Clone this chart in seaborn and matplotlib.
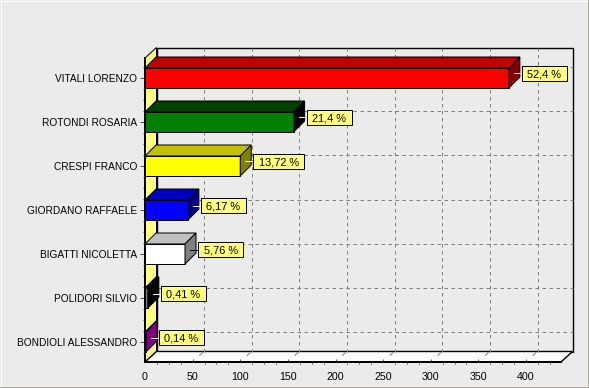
import matplotlib
matplotlib.use("Agg")
import matplotlib.pyplot as plt
import seaborn as sns
import pandas as pd
from matplotlib.patches import Polygon
from matplotlib.lines import Line2D
from matplotlib.ticker import MultipleLocator
from matplotlib.transforms import IdentityTransform

names = ["VITALI LORENZO", "ROTONDI ROSARIA", "CRESPI FRANCO", "GIORDANO RAFFAELE",
         "BIGATTI NICOLETTA", "POLIDORI SILVIO", "BONDIOLI ALESSANDRO"]
votes = [382, 156, 100, 45, 42, 3, 1]
percent = ["52,4 %", "21,4 %", "13,72 %", "6,17 %", "5,76 %", "0,41 %", "0,14 %"]
front_colors = ["#FF0000", "#008000", "#FFFF00", "#0000FF", "#FFFFFF", "#808080", "#800080"]
top_colors = ["#C00000", "#004000", "#C0C000", "#0000C0", "#C0C0C0", "#000000", "#600060"]
side_colors = ["#800000", "#000000", "#808000", "#000080", "#808080", "#000000", "#800080"]

BG = "#EBEBEB"
W, H = 589, 388
PX = 0.72  # one pixel in points
sns.set_theme(style="white")
plt.rcParams["font.family"] = ["Liberation Sans", "DejaVu Sans"]
FS_LABEL = 7.25
FS_XTICK = 7.7
FS_VALUE = 7.9

fig = plt.figure(figsize=(W / 100, H / 100), dpi=100, facecolor=BG)
ax = fig.add_axes([145 / W, 26 / H, 416 / W, 304 / H])
ax.patch.set_visible(False)

df = pd.DataFrame({"name": names, "votes": votes})
sns.barplot(data=df, x="votes", y="name", hue="name", palette=front_colors, legend=False,
            orient="h", width=20 / 44, saturation=1, edgecolor="black", linewidth=PX,
            zorder=3, ax=ax)
ax.set_xlim(0, 416 / 0.9525)
ax.set_ylim(6.4545, -0.4545)
ax.set_xlabel("")
ax.set_ylabel("")

WX, WY = 11.5, 10.5   # wall depth, px
BX, BY = 11, 11       # bar depth, px


def px(x, y, dx=0, dy=0):
    a, b = ax.transData.transform((x, y))
    return (a + dx, b + dy)


def poly(points, color, z, lw=PX, ec="black"):
    ax.add_patch(Polygon(points, closed=True, facecolor=color, edgecolor=ec, linewidth=lw,
                         transform=IdentityTransform(), clip_on=False, zorder=z))


def seg(p0, p1, color, z, lw=PX, **kw):
    ax.add_line(Line2D([p0[0], p1[0]], [p0[1], p1[1]], color=color, lw=lw,
                       transform=IdentityTransform(), clip_on=False, zorder=z, **kw))


xmax = ax.get_xlim()[1]
ytop, ybot = ax.get_ylim()[1], ax.get_ylim()[0]

poly([px(0, ybot, WX, WY), px(xmax, ybot, WX, WY), px(xmax, ytop, WX, WY), px(0, ytop, WX, WY)], BG, 0.5, 1.0)
poly([px(0, ybot), px(0, ybot, WX, WY), px(0, ytop, WX, WY), px(0, ytop)], "#FFFF80", 0.7)
poly([px(0, ybot), px(xmax, ybot), px(xmax, ybot, WX, WY), px(0, ybot, WX, WY)], "#FFFFFF", 0.7, 1.0)

for gx in range(50, 401, 50):
    seg(px(gx, ybot, WX, WY), px(gx, ytop, WX, WY), "#808080", 0.9, dashes=(3.5, 3.5))
    seg(px(gx, ybot, 7, 6.5), px(gx, ybot, 10, 9.5), "#808080", 0.9)
for i in range(len(names)):
    seg(px(0, i, WX, WY), px(xmax, i, WX, WY), "#808080", 0.9, dashes=(3.5, 3.5))

half = 10 / 44
renderer = fig.canvas.get_renderer()
for i, v in enumerate(votes):
    t, b = i - half, i + half
    poly([px(0, t), px(v, t), px(v, t, BX, BY), px(0, t, BX, BY)], top_colors[i], 3)
    poly([px(v, t), px(v, b), px(v, b, BX, BY), px(v, t, BX, BY)], side_colors[i], 3)
    lead = "black" if front_colors[i] == "#FFFFFF" else "white"
    seg(px(v, i, 5, 4.5), px(v, i, 13, 4.5), lead, 5)
    tx = px(v, i, 18.5, 4.5)
    label = ax.text(tx[0], tx[1], percent[i], transform=IdentityTransform(), ha="left",
                    va="center_baseline", fontsize=FS_VALUE, color="black", zorder=7, clip_on=False)
    tw = label.get_window_extent(renderer).width
    x0, x1 = tx[0] - 5.5, tx[0] + tw + 5.5
    y0, y1 = tx[1] - 7.5, tx[1] + 7.5
    poly([(x0, y0), (x1, y0), (x1, y1), (x0, y1)], "#FFFF80", 6)

for s in ("top", "right"):
    ax.spines[s].set_visible(False)
for s in ("left", "bottom"):
    ax.spines[s].set_visible(True)
    ax.spines[s].set_color("black")
    ax.spines[s].set_linewidth(2 * PX)
    ax.spines[s].set_zorder(5)

ax.set_xticks(range(0, 401, 50))
ax.set_xticklabels([str(t) for t in range(0, 401, 50)])
ax.xaxis.set_minor_locator(MultipleLocator(12.5))
ax.yaxis.set_minor_locator(MultipleLocator(0.25))
ax.set_yticks(range(len(names)))
ax.set_yticklabels(names)
ax.tick_params(axis="x", which="major", direction="in", length=2.5, width=PX, color="#505050",
               bottom=True, labelsize=FS_XTICK, pad=7, labelcolor="black")
ax.tick_params(axis="x", which="minor", direction="out", length=1.5, width=PX, color="#505050", bottom=True)
ax.tick_params(axis="y", which="major", direction="out", length=3.5, width=PX, color="#505050",
               left=True, labelsize=FS_LABEL, pad=2, labelcolor="black")
ax.tick_params(axis="y", which="minor", direction="out", length=1.5, width=PX, color="#505050", left=True)
ax.set_axisbelow(False)

for (x0, y0, x1, y1, c) in [(0, H - 0.5, W, H - 0.5, "#FFFFFF"), (0.5, 0, 0.5, H, "#FFFFFF"),
                            (0, 1.5, W, 1.5, "#ACA899"), (W - 1.5, 0, W - 1.5, H, "#ACA899")]:
    fig.add_artist(Line2D([x0 / W, x1 / W], [y0 / H, y1 / H], color=c, lw=PX, transform=fig.transFigure))

fig.savefig("out.png", dpi=100, facecolor=BG)
